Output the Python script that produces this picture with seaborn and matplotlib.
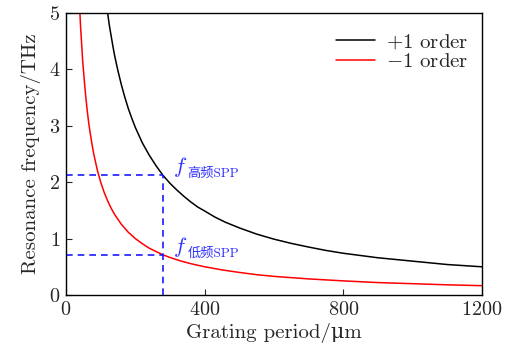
import numpy as np
import pandas as pd
import matplotlib
matplotlib.use("Agg")
import matplotlib.pyplot as plt
import seaborn as sns

# Data
period_plus = [120, 125, 130, 135, 140, 150, 160, 170, 180, 190, 200, 220, 240, 260, 280, 300, 320, 340, 360, 380,
               400, 430, 460, 500, 550, 600, 650, 700, 750, 800, 900, 1000, 1100, 1200]
freq_plus = [5.0, 4.78, 4.6, 4.42, 4.25, 3.97, 3.72, 3.5, 3.30, 3.13, 2.97, 2.70, 2.48, 2.29, 2.12, 1.98, 1.86, 1.75, 1.65, 1.56,
             1.49, 1.38, 1.29, 1.19, 1.08, 0.99, 0.915, 0.85, 0.79, 0.74, 0.66, 0.60, 0.54, 0.50]
period_minus = [40, 42, 45, 48, 50, 55, 60, 65, 70, 75, 80, 90, 100, 110, 120, 130, 140, 160, 180, 200, 220, 240, 260,
                280, 300, 330, 360, 400, 450, 500, 550, 600, 700, 800, 900, 1000, 1100, 1200]
freq_minus = [5.0, 4.75, 4.45, 4.15, 4.0, 3.64, 3.33, 3.07, 2.86, 2.67, 2.50, 2.22, 2.00, 1.82, 1.67, 1.54, 1.43, 1.25,
              1.11, 1.00, 0.91, 0.83, 0.77, 0.71, 0.665, 0.605, 0.555, 0.50, 0.445, 0.40, 0.36, 0.33, 0.285, 0.25,
              0.22, 0.20, 0.18, 0.165]
series_labels = ["$+1$ order", "$-1$ order"]
mark_period = 280
mark_high = 2.12
mark_low = 0.71

df = pd.concat([
    pd.DataFrame({"period": period_plus, "freq": freq_plus, "series": series_labels[0]}),
    pd.DataFrame({"period": period_minus, "freq": freq_minus, "series": series_labels[1]}),
])

sns.set_style("ticks")
plt.rcParams["font.family"] = ["cmr10", "DejaVu Serif", "Noto Sans CJK SC"]
plt.rcParams["mathtext.fontset"] = "cm"
plt.rcParams["axes.unicode_minus"] = False
plt.rcParams["axes.formatter.use_mathtext"] = True

fig = plt.figure(figsize=(5.12, 3.52), dpi=100)
ax = fig.add_axes([0.129, 0.162, 0.812, 0.801])

sns.lineplot(data=df, x="period", y="freq", hue="series", sort=False,
             palette={series_labels[0]: "black", series_labels[1]: "#ff0000"},
             linewidth=1.1, ax=ax, legend=True)

blue = "#1a1aff"
txtblue = "#3030ff"
ax.plot([0, mark_period], [mark_high, mark_high], ls=(0, (4, 3)), color=blue, lw=1.2)
ax.plot([0, mark_period], [mark_low, mark_low], ls=(0, (4, 3)), color=blue, lw=1.2)
ax.plot([mark_period, mark_period], [0, mark_high], ls=(0, (4, 3)), color=blue, lw=1.2)

# labels
ax.text(310, 2.16, "$f$", color=txtblue, fontsize=16, va="baseline")
ax.text(350, 2.09, "高频SPP", color=txtblue, fontsize=9.5, va="baseline",
        family=["cmr10", "Noto Sans CJK SC"])
ax.text(310, 0.745, "$f$", color=txtblue, fontsize=16, va="baseline")
ax.text(350, 0.67, "低频SPP", color=txtblue, fontsize=9.5, va="baseline",
        family=["cmr10", "Noto Sans CJK SC"])

ax.set_xlim(0, 1200)
ax.set_ylim(0, 5)
ax.set_xticks([0, 400, 800, 1200])
ax.set_yticks([0, 1, 2, 3, 4, 5])
ax.tick_params(direction="in", labelsize=14.5, length=4, width=0.8, pad=4)
ax.set_xlabel("Grating period/μm", fontsize=15, labelpad=3)
ax.set_ylabel("Resonance frequency/THz", fontsize=15, labelpad=6)
for s in ax.spines.values():
    s.set_linewidth(1.0)
    s.set_color("black")

leg = ax.legend(loc="upper right", frameon=False, fontsize=15, handlelength=1.9,
                handletextpad=0.5, labelspacing=0.05, bbox_to_anchor=(1.012, 0.997))
leg.set_title(None)

fig.savefig("out.png", dpi=100)
